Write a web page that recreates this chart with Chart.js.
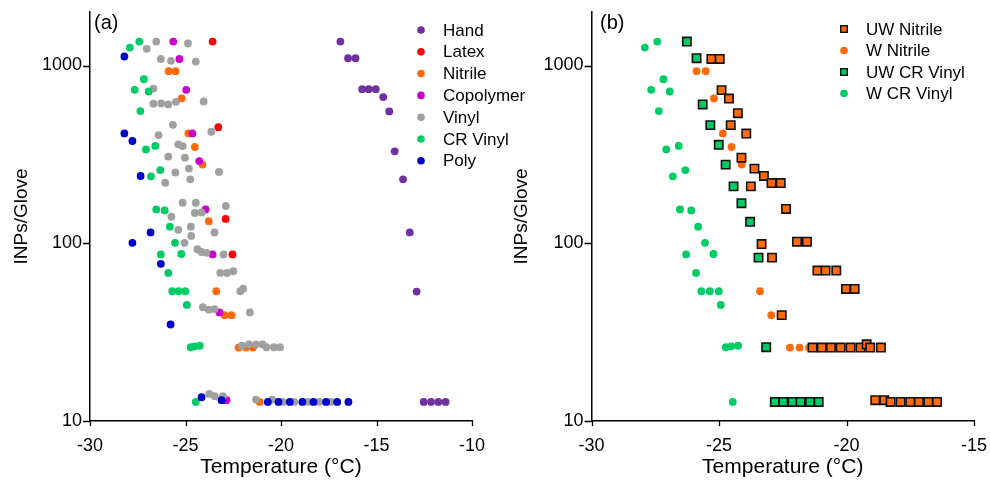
<!DOCTYPE html>
<html>
<head>
<meta charset="utf-8">
<script src="https://cdn.jsdelivr.net/npm/chart.js@4.4.0/dist/chart.umd.min.js"></script>
<style>
  html, body { margin: 0; padding: 0; background: #fff; overflow: hidden; }
  #wrap { position: relative; width: 990px; height: 482px; }
  #wrap canvas { position: absolute; top: 0; }
</style>
</head>
<body>
<div id="wrap">
  <canvas id="chartA" width="540" height="482" style="left:0"></canvas>
  <canvas id="chartB" width="490" height="482" style="left:500px"></canvas>
</div>
<script>
// ── DATA: [temperature °C, INPs/glove] ─────────────────────────
const hand = [[-16.89,1364],[-16.49,1099],[-16.10,1099],[-15.75,736],[-15.41,736],[-15.04,736],
  [-14.65,664],[-14.33,552],[-14.05,329],[-13.61,229],[-13.26,115],[-12.90,53.5],
  [-12.53,12.8],[-12.14,12.8],[-11.76,12.8],[-11.38,12.8]];
const latex = [[-23.58,1364],[-23.28,450],[-22.90,137],[-22.54,86.5]];
const nitrile = [[-25.88,929],[-25.52,929],[-25.20,653],[-24.85,415],[-24.51,348],[-24.11,277],
  [-23.78,133],[-23.39,53.7],[-22.95,39.4],[-22.59,39.4],[-22.22,25.9],[-21.84,25.9],
  [-21.47,25.9],[-21.12,12.8]];
const copolymer = [[-25.64,1364],[-25.32,1088],[-24.96,730],[-24.64,415],[-24.28,290],
  [-23.95,155],[-23.58,86.5],[-23.22,40.8],[-22.85,13.1]];
const vinyl = [[-27.03,1241],[-26.53,1364],[-24.87,1330],[-26.29,1088],[-25.76,1062],[-24.46,1052],
  [-26.68,742],[-26.68,610],[-26.27,612],[-25.90,604],[-25.50,625],[-24.05,628],[-25.66,464],
  [-23.65,424],[-26.41,406],[-25.38,360],[-25.15,352],[-25.90,307],[-25.03,303],[-25.53,250],
  [-24.82,263],[-24.75,229],[-26.06,219],[-23.25,252],[-25.15,169],[-24.46,169],[-22.89,162],
  [-25.74,141],[-24.51,148],[-24.16,149],[-25.38,119],[-24.72,124],[-24.70,110],[-23.48,115],
  [-25.05,100.5],[-24.38,92.5],[-24.16,89.3],[-23.90,88.3],[-23.01,86.5],[-23.18,68.1],
  [-22.83,68.1],[-22.50,69.6],[-22.13,53.7],[-21.98,55.5],[-24.09,43.7],[-23.78,42.3],
  [-23.48,42.6],[-21.63,40.8],[-22.05,26.5],[-21.68,27],[-21.31,27],[-20.97,27],[-20.76,26],
  [-20.37,26],[-20.05,26],[-23.76,14.2],[-23.46,13.8],[-23.04,13.8],[-21.31,13.2],[-20.46,13.2],
  [-19.90,12.8],[-19.30,12.8],[-18.60,12.8],[-18.00,12.8],[-17.40,12.8]];
const crVinyl = [[-27.91,1262],[-27.42,1364],[-27.18,837],[-27.66,730],[-26.93,714],[-27.36,554],
  [-26.58,353],[-27.07,337],[-26.81,238],[-26.32,258],[-26.53,155],[-26.09,153],[-25.82,124],
  [-25.55,100.5],[-26.29,86.5],[-25.22,87],[-25.90,68.1],[-25.69,53.7],[-25.36,53.7],
  [-25.01,53.7],[-24.93,45],[-24.73,26],[-24.52,26.3],[-24.25,26.5],[-24.46,12.8]];
const poly = [[-28.20,1124],[-28.20,415],[-27.78,376],[-27.35,239],[-26.83,115],[-27.78,100.5],
  [-26.29,76.6],[-25.78,34.9],[-24.16,13.6],[-23.11,13.1],[-20.69,12.8],[-20.13,12.8],
  [-19.54,12.8],[-18.88,12.8],[-18.30,12.8],[-17.64,12.8],[-17.06,12.8],[-16.47,12.8]];

const uwNitrile = [[-25.30,1088],[-24.97,1088],[-24.90,727],[-24.61,652],[-24.26,539],[-24.54,462],
  [-23.93,414],[-24.12,303],[-23.61,263],[-23.24,239],[-22.94,218],[-22.58,218],[-23.75,209],
  [-22.37,156],[-23.33,99],[-22.92,83],[-21.94,102],[-21.55,102],[-21.14,70.2],[-20.82,70.2],
  [-20.40,70.2],[-20.02,55.3],[-19.68,55.3],[-22.54,39.4],[-21.33,25.9],[-20.97,25.9],
  [-20.61,25.9],[-20.23,25.9],[-19.84,25.9],[-19.45,25.9],[-19.21,27],[-19.07,25.9],
  [-18.65,25.9],[-18.87,13.1],[-18.52,13.1],[-18.27,12.8],[-17.88,12.8],[-17.50,12.8],
  [-17.16,12.8],[-16.79,12.8],[-16.45,12.8]];
const uwCrVinyl = [[-26.26,1364],[-25.88,1099],[-25.64,604],[-25.34,462],[-25.01,358],[-24.74,277],
  [-24.43,209],[-24.12,168],[-23.78,132],[-23.45,83],[-23.15,26],[-22.81,12.8],[-22.48,12.8],
  [-22.12,12.8],[-21.80,12.8],[-21.43,12.8],[-21.09,12.8]];

const yLabels = [10, 100, 1000];
const xLabelsA = [-30, -25, -20, -15, -10];
const xLabelsB = [-30, -25, -20, -15];

// ── STYLE HELPERS ─────────────────────────────────────────────
const FONT = '"Liberation Sans", Arial, sans-serif';
Chart.defaults.font.family = FONT;
Chart.defaults.color = '#000';

const toXY = arr => arr.map(([x, y]) => ({ x, y }));

function dot(label, data, color, order) {
  return { label, data: toXY(data), order, pointStyle: 'circle', pointRadius: 3.9,
    backgroundColor: color, borderColor: color, borderWidth: 0, _marker: 'circle' };
}

function box(label, data, color, order) {
  return { label, data: toXY(data), order, pointStyle: 'rect', pointRadius: 5.9,
    backgroundColor: color, borderColor: '#111', borderWidth: 1.6, _marker: 'rect' };
}

// ticks, panel letter and legend drawn straight on the canvas
const panelDecor = {
  id: 'panelDecor',
  afterDraw(chart, args, opts) {
    const { ctx, scales: { x, y } } = chart;
    ctx.save();
    ctx.strokeStyle = '#000';
    ctx.lineWidth = 1.3;
    ctx.beginPath();
    y.ticks.forEach(t => {
      if (t.value > 1000) return;
      const py = Math.round(y.getPixelForValue(t.value)) + 0.5;
      const len = yLabels.some(l => Math.abs(l - t.value) < 1e-6) ? 7 : 4;
      ctx.moveTo(y.right - len, py); ctx.lineTo(y.right, py);
    });
    x.ticks.forEach(t => {
      const px = Math.round(x.getPixelForValue(t.value)) + 0.5;
      ctx.moveTo(px, x.top); ctx.lineTo(px, x.top + 5);
    });
    ctx.stroke();

    ctx.fillStyle = '#000';
    ctx.textBaseline = 'middle';
    ctx.font = '20px ' + FONT;
    ctx.fillText(opts.tag, opts.tagX, 23);

    ctx.font = '17px ' + FONT;
    chart.data.datasets.forEach((ds, i) => {
      const cy = opts.y + i * opts.gap;
      if (ds._marker === 'rect') {
        ctx.fillStyle = ds.backgroundColor;
        ctx.fillRect(opts.x - 3.3, cy - 3.3, 6.6, 6.6);
        ctx.lineWidth = 1.4;
        ctx.strokeStyle = '#111';
        ctx.strokeRect(opts.x - 3.3, cy - 3.3, 6.6, 6.6);
      } else {
        ctx.fillStyle = ds.backgroundColor;
        ctx.beginPath();
        ctx.arc(opts.x, cy, 3.8, 0, Math.PI * 2);
        ctx.fill();
      }
      ctx.fillStyle = '#000';
      ctx.fillText(ds.label, opts.x + 22, cy + 1);
    });
    ctx.restore();
  }
};

function makePanel(canvas, datasets, xMax, xLabels, yAxisWidth, padRight, legend) {
  return new Chart(canvas, {
    type: 'scatter',
    data: { datasets },
    plugins: [panelDecor],
    options: {
      responsive: false,
      animation: false,
      events: [],
      layout: { padding: { top: 12, right: padRight, bottom: 0, left: 0 } },
      plugins: {
        legend: { display: false },
        tooltip: { enabled: false },
        panelDecor: legend
      },
      scales: {
        x: {
          type: 'linear', min: -30, max: xMax,
          afterFit: s => { s.height = 61; s.paddingLeft = 0; s.paddingRight = 0; },
          grid: { display: true, drawOnChartArea: false, drawTicks: false },
          border: { color: '#000', width: 1.5 },
          ticks: {
            stepSize: 1, padding: 14, autoSkip: false, maxRotation: 0,
            font: { size: 18 },
            callback: v => xLabels.includes(Math.round(v)) && Math.abs(v - Math.round(v)) < 1e-9 ? String(Math.round(v)) : null
          },
          title: { display: true, text: 'Temperature (°C)', font: { size: 21 }, padding: { top: 0, bottom: 2 } }
        },
        y: {
          type: 'logarithmic', min: 10, max: 2000,
          afterFit: s => { s.width = yAxisWidth; s.paddingTop = 0; s.paddingBottom = 0; },
          grid: { display: true, drawOnChartArea: false, drawTicks: false },
          border: { color: '#000', width: 1.5 },
          ticks: {
            padding: 8, autoSkip: false,
            font: { size: 18 },
            callback: v => { const l = yLabels.find(k => Math.abs(k - v) < 1e-6); return l ? String(l) : null; }
          },
          title: { display: true, text: 'INPs/Glove', font: { size: 19 }, padding: { top: 10, bottom: 0 } }
        }
      }
    }
  });
}

// ── PANEL (a) ─────────────────────────────────────────────────
makePanel(document.getElementById('chartA'), [
  dot('Hand', hand, '#7030A0', 10),
  dot('Latex', latex, '#FF0000', 9),
  dot('Nitrile', nitrile, '#FF6A0D', 8),
  dot('Copolymer', copolymer, '#CC00CC', 7),
  dot('Vinyl', vinyl, '#A0A0A0', 6),
  dot('CR Vinyl', crVinyl, '#00CC66', 5),
  dot('Poly', poly, '#0000CC', 4)
], -10, xLabelsA, 90, 68, { tag: '(a)', tagX: 94, x: 421, y: 30, gap: 21.8 });

// ── PANEL (b) ─────────────────────────────────────────────────
makePanel(document.getElementById('chartB'), [
  box('UW Nitrile', uwNitrile, '#FF6A0D', 1),
  dot('W Nitrile', nitrile, '#FF6A0D', 3),
  box('UW CR Vinyl', uwCrVinyl, '#00CC66', 0),
  dot('W CR Vinyl', crVinyl, '#00CC66', 2)
], -15, xLabelsB, 91.5, 16, { tag: '(b)', tagX: 100, x: 344, y: 29, gap: 21.5 });
</script>
</body>
</html>
